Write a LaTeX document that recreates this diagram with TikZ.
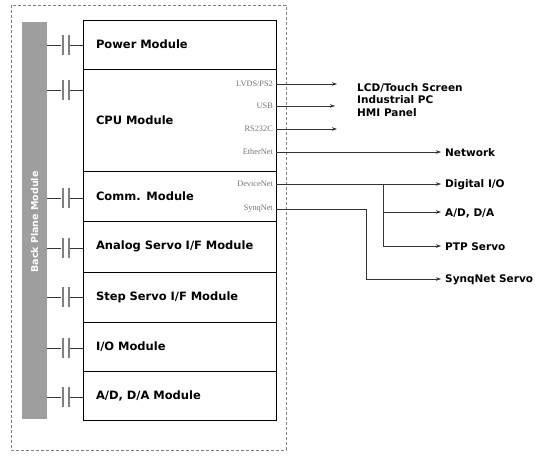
\documentclass[tikz,border=0pt]{standalone}
\usepackage{fontspec}
\setmainfont{DejaVu Sans}
\newfontfamily\portfont{Liberation Serif}
\usetikzlibrary{arrows.meta}
\begin{document}
\begin{tikzpicture}[x=1pt,y=-1pt,
  modbox/.style={draw=black,line width=0.9pt,minimum width=193pt,text width=167pt,align=left,inner xsep=13pt,inner ysep=0pt,font=\bfseries\fontsize{11.5}{13}\selectfont,anchor=center,outer sep=0pt},
  port/.style={font=\portfont\fontsize{8.3}{9}\selectfont,text=black!55,anchor=east,inner sep=1pt},
  dest/.style={font=\bfseries\fontsize{10.5}{12}\selectfont,anchor=west,inner sep=0pt},
  link/.style={line width=0.6pt,black!80},
  arr/.style={link,-{Stealth[length=5pt,width=3.5pt]}},
  jack/.style={line width=2pt,black!50},
  frame/.style={densely dashed,line width=0.4pt,black!50}]

\useasboundingbox (0,0) rectangle (546,457);
\draw[frame] (11,5) rectangle (286,450);

% back plane
\node[fill=black!38,minimum width=25pt,minimum height=397pt,inner sep=0pt] (bar) at (34.5,220.5) {};
\node[rotate=90,text=white,font=\bfseries\fontsize{9.5}{11}\selectfont,inner sep=0pt] (barlabel) at (34.5,222) {Back Plane Module};

% modules
\node[modbox,minimum height=49pt]  (power)  at (179.5,44.5)  {Power Module};
\node[modbox,minimum height=102pt] (cpu)    at (179.5,120)   {CPU Module};
\node[modbox,minimum height=50pt]  (comm)   at (179.5,196)   {Comm. Module};
\node[modbox,minimum height=51pt]  (analog) at (179.5,246.5) {Analog Servo I/F Module};
\node[modbox,minimum height=50pt]  (step)   at (179.5,297)   {Step Servo I/F Module};
\node[modbox,minimum height=49pt]  (io)     at (179.5,346.5) {I/O Module};
\node[modbox,minimum height=49pt]  (adda)   at (179.5,395.5) {A/D, D/A Module};

% back plane connectors
\foreach \m/\yy in {power/45,cpu/90,comm/198,analog/248,step/297,io/348,adda/397}{
  \coordinate (b\m) at (bar.east |- 0,\yy);
  \coordinate (m\m) at (\m.west |- 0,\yy);
  \coordinate (j1\m) at (62.5,\yy);
  \coordinate (j2\m) at (68.5,\yy);
  \draw[link] (b\m) -- ([xshift=-1.5pt]j1\m);
  \draw[link] ([xshift=1.5pt]j2\m) -- (m\m);
  \draw[jack] ([yshift=-10pt]j1\m) -- ([yshift=10pt]j1\m);
  \draw[jack] ([yshift=-10pt]j2\m) -- ([yshift=10pt]j2\m);
}

% ports
\coordinate (pLVDS) at (cpu.east |- 0,84);
\coordinate (pUSB)  at (cpu.east |- 0,106);
\coordinate (pRS)   at (cpu.east |- 0,129);
\coordinate (pEth)  at (cpu.east |- 0,152);
\coordinate (pDev)  at (comm.east |- 0,184);
\coordinate (pSyn)  at (comm.east |- 0,209);
\node[port] (lLVDS) at ([xshift=-2pt]pLVDS) {LVDS/PS2};
\node[port] (lUSB)  at ([xshift=-2pt]pUSB)  {USB};
\node[port] (lRS)   at ([xshift=-2pt]pRS)   {RS232C};
\node[port] (lEth)  at ([xshift=-2pt]pEth)  {EtherNet};
\node[port] (lDev)  at ([xshift=-2pt]pDev)  {DeviceNet};
\node[port] (lSyn)  at ([xshift=-2pt]pSyn)  {SynqNet};

% destinations
\node[dest] (lcd)  at (357,88)  {LCD/Touch Screen};
\node[dest] (ipc)  at (357,100) {Industrial PC};
\node[dest] (hmi)  at (357,113) {HMI Panel};
\node[dest] (net)  at (445,153) {Network};
\node[dest] (dio)  at (445,185) {Digital I/O};
\node[dest] (ad)   at (445,213) {A/D, D/A};
\node[dest] (ptp)  at (445,247) {PTP Servo};
\node[dest] (syn)  at (445,280) {SynqNet Servo};

\coordinate (eLVDS) at (337,84);
\coordinate (eUSB)  at (335,106);
\coordinate (eRS)   at (337,129);
\draw[arr] (pLVDS) -- (eLVDS);
\draw[arr] (pUSB)  -- (eUSB);
\draw[arr] (pRS)   -- (eRS);
\draw[arr] (pEth)  -- ([xshift=-4pt]net.west |- pEth);
\draw[arr] (pDev)  -- ([xshift=-4pt]dio.west |- pDev);
\coordinate (split) at (383,184);
\draw[link] (split) -- (split |- 0,246);
\draw[arr] (split |- 0,212) -- ([xshift=-4pt]ad.west |- 0,212);
\draw[arr] (split |- 0,246) -- ([xshift=-4pt]ptp.west |- 0,246);
\coordinate (bend) at (366,209);
\draw[arr] (pSyn) -- (bend) -- (bend |- 0,279) -- ([xshift=-4pt]syn.west |- 0,279);
\end{tikzpicture}
\end{document}
